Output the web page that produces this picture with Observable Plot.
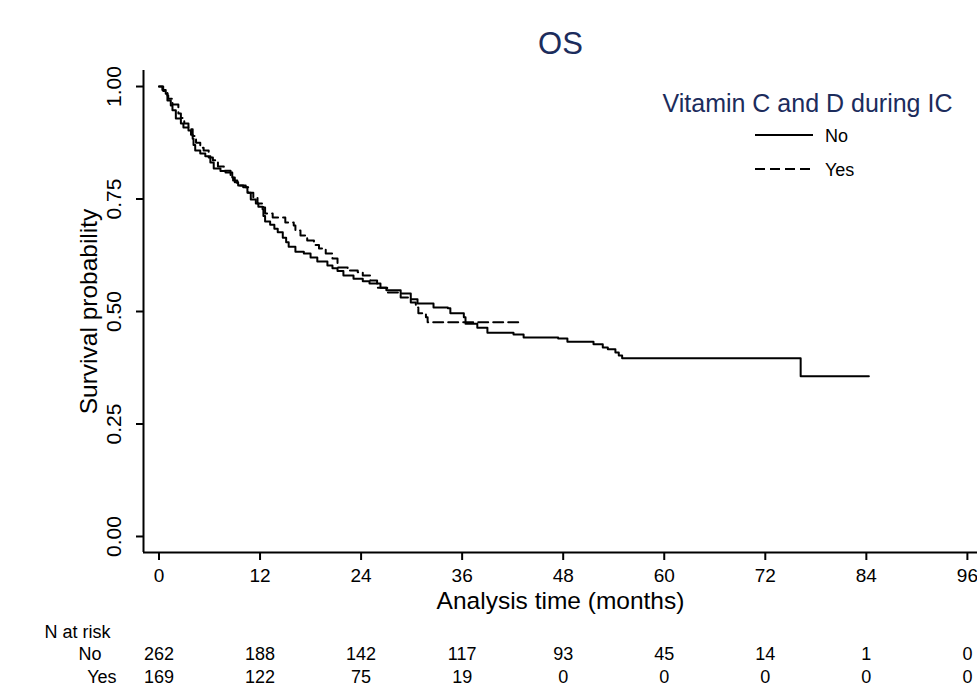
<!DOCTYPE html>
<html><head><meta charset="utf-8">
<script src="https://cdn.jsdelivr.net/npm/d3@7"></script>
<script src="https://cdn.jsdelivr.net/npm/@observablehq/plot@0.6"></script>
<style>
html,body{margin:0;padding:0;background:#fff;}
#chart{width:977px;height:687px;}
</style></head><body><div id="chart"></div>
<script>
const FONT = '"Liberation Sans", Arial, sans-serif';
const NAVY = "#1c2c5c";
const title = "OS";
const xLabel = "Analysis time (months)";
const yLabel = "Survival probability";
const legendTitle = "Vitamin C and D during IC";
const groups = ["No", "Yes"];

const noTime = [0, 0.4, 0.8, 1.0, 1.4, 1.6, 2.0, 2.6, 2.9, 3.5, 3.8, 4.0, 4.1, 4.3, 4.9, 5.5, 6.1, 6.5, 7.3, 7.9, 8.7, 9.0, 9.4, 10.0, 10.5, 10.9, 11.5, 11.8, 12.3, 12.4, 12.6, 13.2, 13.7, 14.1, 14.7, 15.1, 15.4, 16.2, 17.2, 18.0, 18.8, 20.0, 20.6, 21.2, 21.9, 23.1, 24.2, 25.0, 26.3, 27.0, 28.7, 29.9, 30.7, 32.6, 34.3, 34.6, 36.2, 36.4, 37.8, 39.0, 42.1, 43.3, 47.4, 48.5, 51.6, 52.7, 53.3, 54.2, 54.6, 55.0, 76.2, 84.3];
const noSurv = [1.000, 0.992, 0.984, 0.969, 0.958, 0.947, 0.929, 0.918, 0.909, 0.902, 0.893, 0.884, 0.870, 0.858, 0.851, 0.845, 0.831, 0.818, 0.812, 0.809, 0.798, 0.787, 0.780, 0.776, 0.764, 0.749, 0.740, 0.733, 0.727, 0.712, 0.700, 0.693, 0.684, 0.676, 0.664, 0.654, 0.644, 0.633, 0.629, 0.620, 0.611, 0.602, 0.596, 0.590, 0.580, 0.573, 0.567, 0.562, 0.553, 0.547, 0.540, 0.527, 0.518, 0.509, 0.507, 0.496, 0.487, 0.473, 0.464, 0.453, 0.449, 0.442, 0.440, 0.433, 0.427, 0.420, 0.416, 0.409, 0.402, 0.396, 0.356, 0.356];

const yesTime = [0, 0.5, 1.0, 1.1, 1.6, 2.3, 2.6, 3.0, 3.5, 4.0, 4.4, 4.9, 5.3, 5.9, 6.4, 7.0, 7.7, 8.5, 8.8, 9.3, 10.3, 10.6, 11.2, 11.7, 12.4, 12.6, 13.5, 15.0, 16.0, 16.2, 16.8, 17.6, 18.4, 19.0, 19.8, 20.6, 21.2, 22.4, 23.6, 24.2, 25.1, 25.9, 27.1, 28.7, 29.9, 30.5, 30.8, 31.7, 31.9, 43.2];
const yesSurv = [1.000, 0.990, 0.980, 0.973, 0.960, 0.940, 0.930, 0.918, 0.905, 0.890, 0.875, 0.864, 0.858, 0.842, 0.836, 0.822, 0.813, 0.798, 0.791, 0.780, 0.776, 0.764, 0.753, 0.740, 0.731, 0.718, 0.709, 0.698, 0.691, 0.680, 0.669, 0.658, 0.648, 0.640, 0.629, 0.618, 0.598, 0.591, 0.587, 0.580, 0.569, 0.553, 0.542, 0.531, 0.520, 0.509, 0.496, 0.487, 0.476, 0.476];

const xTicks = [0, 12, 24, 36, 48, 60, 72, 84, 96];
const yTicks = [0, 0.25, 0.5, 0.75, 1];
const yTickLabels = ["0.00", "0.25", "0.50", "0.75", "1.00"];
const riskTitle = "N at risk";
const riskTimes = [0, 12, 24, 36, 48, 60, 72, 84, 96];
const riskNo = [262, 188, 142, 117, 93, 45, 14, 1, 0];
const riskYes = [169, 122, 75, 19, 0, 0, 0, 0, 0];

const xDomain = [-1.84, 97.2];
const yDomain = [-0.0356, 1.0356];

const noRows = noTime.map((t, i) => ({group: groups[0], t, s: noSurv[i]}));
const yesRows = yesTime.map((t, i) => ({group: groups[1], t, s: yesSurv[i]}));
const yTickRows = yTicks.map((v, i) => ({v, label: yTickLabels[i]}));
const riskNoRows = riskTimes.map((t, i) => ({t, n: riskNo[i]}));
const riskYesRows = riskTimes.map((t, i) => ({t, n: riskYes[i]}));

const plot = Plot.plot({
  width: 977, height: 687,
  marginLeft: 143, marginRight: 0, marginTop: 70, marginBottom: 135,
  style: {fontFamily: FONT, background: "white", color: "black", overflow: "visible"},
  x: {domain: xDomain},
  y: {domain: yDomain},
  marks: [
    Plot.ruleX([xDomain[0]], {stroke: "black", strokeWidth: 2}),
    Plot.ruleY([yDomain[0]], {stroke: "black", strokeWidth: 2}),
    Plot.axisX({ticks: xTicks, tickSize: 8, tickPadding: 8, fontSize: 19, label: null, strokeWidth: 2, tickFormat: d => String(d)}),
    Plot.axisY({ticks: yTicks, tickSize: 7, label: null, strokeWidth: 2, tickFormat: () => ""}),
    Plot.text(yTickRows, {y: "v", text: "label", frameAnchor: "left", dx: -29, rotate: -90, fontSize: 21, textAnchor: "middle", lineAnchor: "middle"}),
    Plot.text([xLabel], {frameAnchor: "bottom", dy: 49, fontSize: 24.5, textAnchor: "middle", lineAnchor: "middle"}),
    Plot.text([yLabel], {frameAnchor: "left", dx: -54, rotate: -90, fontSize: 24.5, textAnchor: "middle", lineAnchor: "middle"}),
    Plot.text([title], {frameAnchor: "top", dy: -26, fontSize: 31, fill: NAVY, textAnchor: "middle", lineAnchor: "middle"}),
    Plot.line(noRows, {x: "t", y: "s", curve: "step-after", stroke: "black", strokeWidth: 2}),
    Plot.line(yesRows, {x: "t", y: "s", curve: "step-after", stroke: "black", strokeWidth: 2, strokeDasharray: "10,5"}),
    Plot.text([riskTitle], {frameAnchor: "bottom-left", dx: -99, dy: 80, textAnchor: "start", fontSize: 18, lineAnchor: "middle"}),
    Plot.text([groups[0]], {frameAnchor: "bottom-left", dx: -42, dy: 102, textAnchor: "end", fontSize: 18, lineAnchor: "middle"}),
    Plot.text([groups[1]], {frameAnchor: "bottom-left", dx: -27, dy: 125, textAnchor: "end", fontSize: 18, lineAnchor: "middle"}),
    Plot.text(riskNoRows, {x: "t", text: "n", frameAnchor: "bottom", dy: 102, fontSize: 18, textAnchor: "middle", lineAnchor: "middle"}),
    Plot.text(riskYesRows, {x: "t", text: "n", frameAnchor: "bottom", dy: 125, fontSize: 18, textAnchor: "middle", lineAnchor: "middle"})
  ]
});

// Legend (top right, inside plot area)
const svg = d3.select(plot);
const lg = svg.append("g").attr("font-family", FONT);
lg.append("text").attr("x", 807.5).attr("y", 112).attr("text-anchor", "middle")
  .attr("font-size", 25).attr("fill", NAVY).text(legendTitle);
const legendItems = [
  {label: groups[0], y: 135, dash: null},
  {label: groups[1], y: 169, dash: "10,5"}
];
legendItems.forEach(it => {
  const l = lg.append("line").attr("x1", 755).attr("x2", 813).attr("y1", it.y).attr("y2", it.y)
    .attr("stroke", "black").attr("stroke-width", 2);
  if (it.dash) l.attr("stroke-dasharray", it.dash);
  lg.append("text").attr("x", 825).attr("y", it.y + 6.5).attr("text-anchor", "start")
    .attr("font-size", 18).attr("fill", "black").text(it.label);
});

document.getElementById("chart").appendChild(plot);
</script>
</body></html>
